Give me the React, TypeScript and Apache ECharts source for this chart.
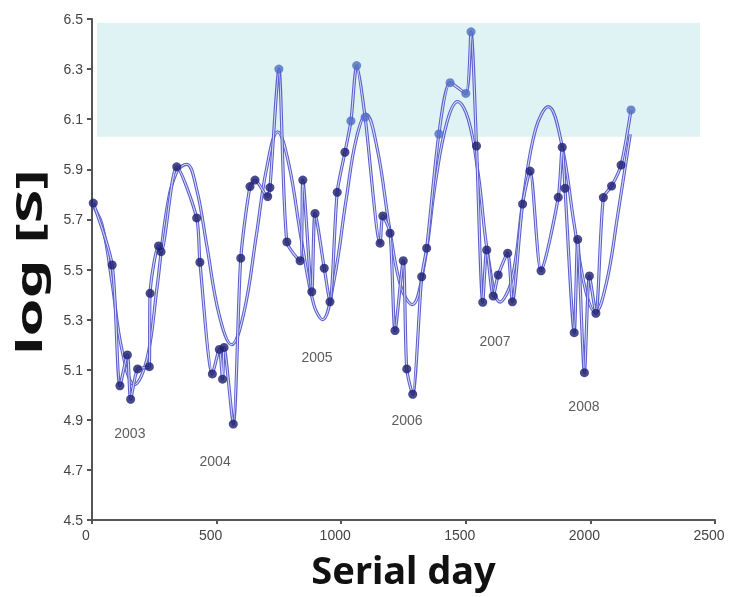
import React, { useEffect, useRef } from 'react';
import * as echarts from 'echarts';

// Observed samples: serial day and log[S]
const days = [5, 81, 112, 142, 155, 183, 230, 233, 267, 277, 340, 420, 433, 483, 511, 524, 530, 567, 597, 634, 654, 705, 714, 750, 782, 835, 846, 882, 895, 932, 955, 984, 1015, 1039, 1062, 1096, 1156, 1167, 1196, 1216, 1249, 1263, 1287, 1323, 1343, 1392, 1437, 1500, 1521, 1543, 1568, 1584, 1610, 1630, 1668, 1687, 1728, 1758, 1802, 1871, 1887, 1898, 1935, 1949, 1976, 1996, 2022, 2052, 2085, 2123, 2163];
const logS = [5.765, 5.518, 5.036, 5.159, 4.982, 5.103, 5.112, 5.405, 5.594, 5.571, 5.91, 5.706, 5.529, 5.083, 5.181, 5.062, 5.189, 4.883, 5.545, 5.831, 5.857, 5.791, 5.827, 6.3, 5.61, 5.535, 5.857, 5.411, 5.724, 5.505, 5.371, 5.808, 5.968, 6.093, 6.314, 6.108, 5.605, 5.714, 5.645, 5.256, 5.535, 5.103, 5.002, 5.471, 5.585, 6.041, 6.246, 6.203, 6.449, 5.993, 5.369, 5.578, 5.394, 5.478, 5.565, 5.371, 5.761, 5.893, 5.495, 5.788, 5.988, 5.824, 5.248, 5.62, 5.088, 5.474, 5.325, 5.787, 5.833, 5.917, 6.137];

// Fitted periodic curve
const fitDays = [0, 40, 80, 120, 170, 220, 260, 300, 340, 380, 420, 460, 510, 560, 610, 660, 700, 745, 790, 840, 890, 925, 970, 1020, 1060, 1100, 1145, 1195, 1240, 1285, 1330, 1380, 1425, 1467, 1510, 1550, 1590, 1637, 1685, 1730, 1780, 1831, 1885, 1935, 1980, 2020, 2065, 2110, 2160];
const fitLogS = [5.76, 5.68, 5.45, 5.18, 5.04, 5.14, 5.42, 5.74, 5.89, 5.92, 5.82, 5.6, 5.32, 5.2, 5.33, 5.64, 5.9, 6.05, 5.92, 5.62, 5.36, 5.3, 5.45, 5.78, 6.02, 6.12, 5.98, 5.66, 5.43, 5.36, 5.5, 5.86, 6.09, 6.17, 6.1, 5.88, 5.55, 5.37, 5.46, 5.78, 6.06, 6.15, 6.0, 5.68, 5.42, 5.33, 5.45, 5.72, 6.04];

// Year annotations
const yearNames = ['2003', '2004', '2005', '2006', '2007', '2008'];
const yearDays = [152, 494, 903, 1264, 1617, 1974];
const yearLogS = [4.847, 4.736, 5.151, 4.9, 5.215, 4.955];

// Shaded band
const bandDays = [20, 2440];
const bandLogS = [6.03, 6.485];

// Axis ticks
const yTicks = [4.5, 4.7, 4.9, 5.1, 5.3, 5.5, 5.7, 5.9, 6.1, 6.3, 6.5];
const xMin = 0;
const xMax = 2500;
const xStep = 500;

const xTitle = 'Serial day';
const yTitle = 'log [S]';

const LINE = '#5a5fcc';
const INNER = '#d9daf5';
const DARK = '#1b1d6e';
const LIGHT = '#4f6cc4';

export default function App() {
  const ref = useRef<HTMLDivElement>(null);
  useEffect(() => {
    const chart = echarts.init(ref.current!, null, { renderer: 'svg' });
    const obs = days.map((d, i) => [d, logS[i]]);
    const fit = fitDays.map((d, i) => [d, fitLogS[i]]);
    const markers = days.map((d, i) => ({
      value: [d, logS[i]],
      itemStyle: { color: logS[i] > bandLogS[0] ? LIGHT : DARK },
    }));
    const years = yearNames.map((n, i) => ({ name: n, value: [yearDays[i], yearLogS[i]] }));
    const axisLine = { show: true, lineStyle: { color: '#555', width: 2 } };
    chart.setOption({
      animation: false,
      textStyle: { fontFamily: 'Liberation Sans' },
      grid: { left: 92, right: 19, top: 19, bottom: 77, containLabel: false },
      graphic: [
        {
          type: 'text',
          x: 29,
          y: 262,
          rotation: Math.PI / 2,
          scaleX: 1.75,
          style: {
            text: yTitle,
            font: 'bold 35px "Noto Sans"',
            fill: '#111',
            align: 'center',
            verticalAlign: 'middle',
          },
        },
      ],
      xAxis: {
        type: 'value',
        min: xMin,
        max: xMax,
        interval: xStep,
        axisLine,
        axisTick: { show: true, length: 4, lineStyle: { color: '#555', width: 2 } },
        axisLabel: {
          fontSize: 14,
          color: '#444',
          margin: 8,
          padding: [0, 12, 0, 0],
          formatter: (v: number) => String(v),
        },
        splitLine: { show: false },
        name: xTitle,
        nameLocation: 'middle',
        nameGap: 30,
        nameTextStyle: { fontSize: 38, fontWeight: 'bold', color: '#111', fontFamily: 'Noto Sans' },
      },
      yAxis: {
        type: 'value',
        min: 4.5,
        max: 6.5,
        axisLine,
        axisTick: { show: true, length: 5, customValues: yTicks, lineStyle: { color: '#555', width: 2 } },
        axisLabel: {
          customValues: yTicks,
          fontSize: 14,
          color: '#444',
          margin: 9,
          formatter: (v: number) => v.toFixed(1),
        },
        splitLine: { show: false },
      },
      series: [
        {
          type: 'line',
          data: fit,
          smooth: 0.4,
          showSymbol: false,
          lineStyle: { color: LINE, width: 3.2 },
          z: 2,
          silent: true,
          markArea: {
            silent: true,
            itemStyle: { color: '#dff2f4' },
            data: [[{ xAxis: bandDays[0], yAxis: bandLogS[0] }, { xAxis: bandDays[1], yAxis: bandLogS[1] }]],
          },
        },
        {
          type: 'line',
          data: fit,
          smooth: 0.4,
          showSymbol: false,
          lineStyle: { color: INNER, width: 1.1 },
          z: 3,
          silent: true,
        },
        {
          type: 'line',
          data: obs,
          smooth: 0.25,
          showSymbol: false,
          lineStyle: { color: LINE, width: 3.2 },
          z: 4,
          silent: true,
        },
        {
          type: 'line',
          data: obs,
          smooth: 0.25,
          showSymbol: false,
          lineStyle: { color: INNER, width: 1.1 },
          z: 5,
          silent: true,
        },
        {
          type: 'scatter',
          data: markers,
          symbol: 'circle',
          symbolSize: 9,
          z: 6,
          silent: true,
        },
        {
          type: 'scatter',
          data: years,
          symbolSize: 0,
          z: 7,
          silent: true,
          label: {
            show: true,
            position: 'inside',
            formatter: '{b}',
            fontSize: 14,
            color: '#333',
          },
        },
      ],
    });
    return () => chart.dispose();
  }, []);
  return <div ref={ref} style={{ position: 'fixed', left: 0, top: 0, width: 734, height: 597 }} />;
}
